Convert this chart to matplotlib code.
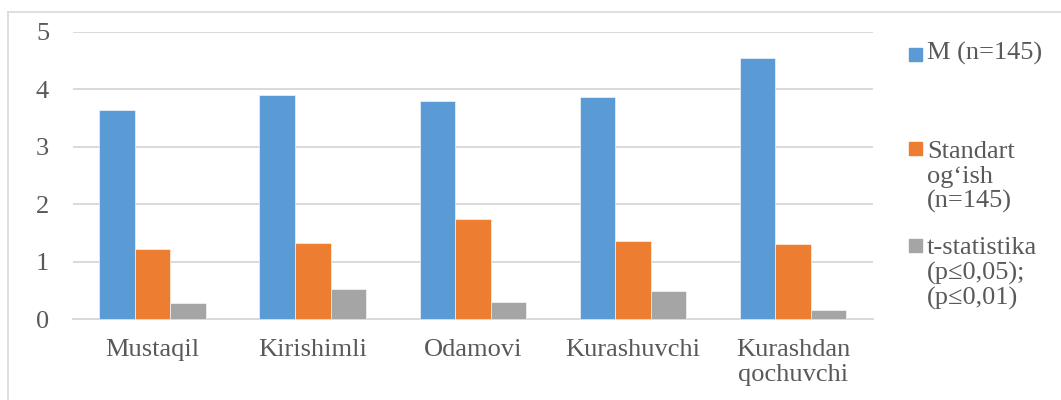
import numpy as np
import matplotlib.pyplot as plt
from matplotlib.lines import Line2D
from matplotlib.patches import Rectangle

# Ma'lumotlar
categories = ["Mustaqil", "Kirishimli", "Odamovi", "Kurashuvchi", "Kurashdan\nqochuvchi"]
series_names = ["M (n=145)", "Standart\nog\u2018ish\n(n=145)", "t-statistika\n(p\u22640,05);\n(p\u22640,01)"]
mean_vals = [3.64, 3.90, 3.80, 3.87, 4.54]
std_vals = [1.22, 1.32, 1.75, 1.36, 1.31]
t_vals = [0.29, 0.52, 0.30, 0.49, 0.17]
y_ticks = [0, 1, 2, 3, 4, 5]

colors = ["#5B9BD5", "#ED7D31", "#A5A5A5"]
text_color = "#595959"
grid_color = "#D9D9D9"
FS = 19

plt.rcParams["font.family"] = ["Liberation Serif", "DejaVu Serif"]

W, H = 1061, 400
fig = plt.figure(figsize=(W / 100, H / 100), dpi=100)
ax = fig.add_axes([72.7 / W, 1 - 319.3 / H, (873 - 72.7) / W, (319.3 - 32) / H])

x = np.arange(len(categories))
bw = 0.222
for i, vals in enumerate([mean_vals, std_vals, t_vals]):
    ax.bar(x + (i - 1) * bw, vals, width=bw, color=colors[i], zorder=3,
           edgecolor="white", linewidth=0.4)

ax.set_xlim(-0.5, len(categories) - 0.5)
ax.set_ylim(0, 5)
ax.set_yticks(y_ticks)
ax.set_xticks(x)
ax.set_xticklabels(categories, linespacing=1.2)
ax.tick_params(axis="both", length=0, labelsize=FS, colors=text_color)
ax.tick_params(axis="y", pad=17)
ax.tick_params(axis="x", pad=14)
ax.grid(axis="y", color=grid_color, linewidth=1.4, zorder=0)
for s in ["top", "right", "left"]:
    ax.spines[s].set_visible(False)
ax.spines["bottom"].set_color(grid_color)
ax.spines["bottom"].set_linewidth(1.4)

# Legend (manual placement)
sq_y = [54, 149, 245]
txt_y = [42, 141, 237]
for name, c, sy, ty in zip(series_names, colors, sq_y, txt_y):
    fig.patches.append(Rectangle((909 / W, 1 - (sy + 6.5) / H), 13 / W, 13 / H,
                                 transform=fig.transFigure, color=c, figure=fig))
    fig.text(927 / W, 1 - ty / H, name, fontsize=FS, color=text_color,
             va="top", ha="left", linespacing=1.15)

# Outer frame (left and top)
fig.add_artist(Line2D([7.5 / W, 7.5 / W], [0, 1 - 12 / H], color=grid_color,
                      linewidth=1.2, transform=fig.transFigure))
fig.add_artist(Line2D([7.5 / W, 1], [1 - 12 / H, 1 - 12 / H], color=grid_color,
                      linewidth=1.2, transform=fig.transFigure))

fig.savefig("out.png", dpi=100)
